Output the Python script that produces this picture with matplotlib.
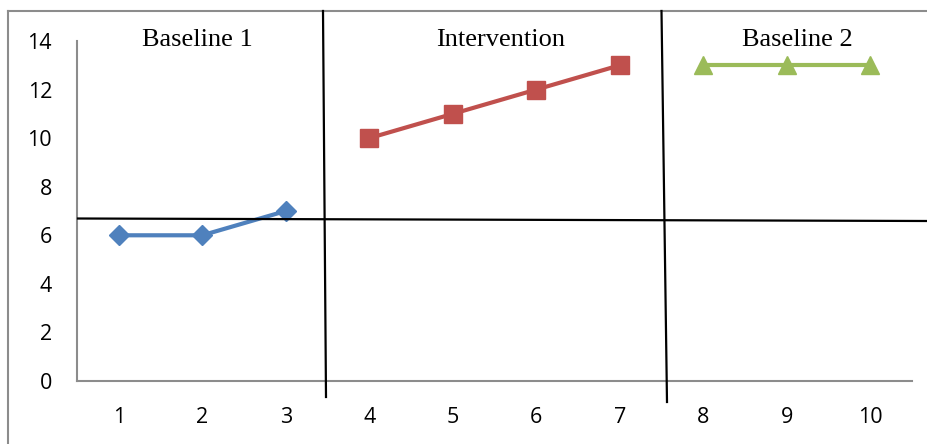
import matplotlib
matplotlib.use("Agg")
import matplotlib.pyplot as plt
from matplotlib.lines import Line2D

categories = ["1", "2", "3", "4", "5", "6", "7", "8", "9", "10"]
baseline1_x = [1, 2, 3]
baseline1_y = [6, 6, 7]
intervention_x = [4, 5, 6, 7]
intervention_y = [10, 11, 12, 13]
baseline2_x = [8, 9, 10]
baseline2_y = [13, 13, 13]
phase_labels = ["Baseline 1", "Intervention", "Baseline 2"]
yticks = [0, 2, 4, 6, 8, 10, 12, 14]

W, H = 928, 444
fig = plt.figure(figsize=(W / 100, H / 100), dpi=100)
ax = fig.add_axes([77 / W, (H - 381) / H, (912 - 77) / W, (381 - 41) / H])

ax.plot(baseline1_x, baseline1_y, color="#4F81BD", lw=3, marker="D", ms=10, zorder=3)
ax.plot(intervention_x, intervention_y, color="#C0504D", lw=3, marker="s", ms=13.5, zorder=3)
ax.plot(baseline2_x, baseline2_y, color="#9BBB59", lw=3, marker="^", ms=13, zorder=3)

ax.set_xlim(0.5, 10.5)
ax.set_ylim(0, 14)
ax.set_yticks(yticks)
ax.set_xticks(range(1, 11))
ax.set_xticklabels(categories)
ax.tick_params(length=0, labelsize=15.5, colors="black")
ax.tick_params(axis="x", pad=19)
ax.tick_params(axis="y", pad=18)
for lab in ax.get_xticklabels() + ax.get_yticklabels():
    lab.set_fontfamily("Open Sans")
for s in ["top", "right"]:
    ax.spines[s].set_visible(False)
for s in ["left", "bottom"]:
    ax.spines[s].set_color("#8C8C8C")
    ax.spines[s].set_linewidth(1.5)

def fx(px):
    return px / W

def fy(py):
    return 1 - py / H

# frame border
fig.add_artist(Line2D([fx(8), fx(8)], [fy(11), fy(444)], color="#8C8C8C", lw=1.5))
fig.add_artist(Line2D([fx(8), fx(928)], [fy(11), fy(11)], color="#8C8C8C", lw=1.5))

# phase lines
fig.add_artist(Line2D([fx(323), fx(326)], [fy(11), fy(397)], color="black", lw=1.6, zorder=5))
fig.add_artist(Line2D([fx(661.5), fx(667)], [fy(11), fy(402)], color="black", lw=1.6, zorder=5))
fig.add_artist(Line2D([fx(78), fx(928)], [fy(218.5), fy(221)], color="black", lw=1.6, zorder=5))

for label, cx in zip(phase_labels, [197, 501, 797]):
    fig.text(fx(cx), fy(46), label, ha="center", va="baseline",
             fontsize=19, family="Liberation Serif")

fig.savefig("out.png", dpi=100)
